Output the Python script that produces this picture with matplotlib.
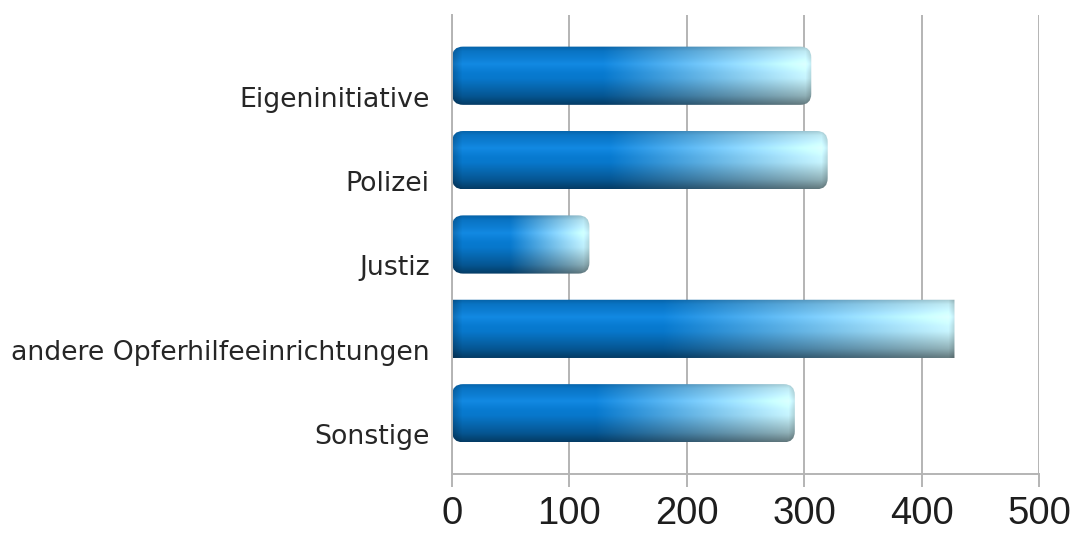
import numpy as np
import matplotlib
matplotlib.use("Agg")
import matplotlib.pyplot as plt
from matplotlib.patches import FancyBboxPatch

# data
categories = ["Eigeninitiative", "Polizei", "Justiz",
              "andere Opferhilfeeinrichtungen", "Sonstige"]
values = [306, 320, 117, 428, 292]
xticks = [0, 100, 200, 300, 400, 500]

grey = "#b4b4b4"
blue = np.array([0.03, 0.47, 0.80])
light = np.array([0.80, 0.97, 1.00])


def bar_image(npx_x, npx_y=60):
    # horizontal colour: blue, fading to pale cyan over the right part
    t = np.linspace(0, 1, npx_x)
    k = np.clip((t - 0.42) / 0.58, 0, 1)
    base = blue[None, :] * (1 - k[:, None]) + light[None, :] * k[:, None]
    # vertical shading of a cylinder
    s = np.linspace(0, 1, npx_y)
    fs = np.interp(s, [0, 0.08, 0.3, 0.55, 0.85, 1.0],
                   [0.82, 0.95, 1.06, 1.0, 0.72, 0.5])
    hl = np.interp(s, [0, 0.2, 0.3, 0.45, 1.0], [0, 0.02, 0.04, 0.0, 0])
    # darker rim at the ends
    px = np.arange(npx_x)
    fe = np.minimum(1, 0.78 + 0.22 * np.clip(px / 10.0, 0, 1))
    fe = fe * np.minimum(1, 0.85 + 0.15 * np.clip((npx_x - 1 - px) / 6.0, 0, 1))
    img = base[None, :, :] * fs[:, None, None] * fe[None, :, None] + hl[:, None, None]
    return np.clip(img, 0, 1)


fig = plt.figure(figsize=(10.74, 5.39), dpi=100)
ax = fig.add_axes([0.4209, 0.1206, 0.9674 - 0.4209, 0.9722 - 0.1206])

ypos = np.arange(len(categories))
bars = ax.barh(ypos, values, height=0.69, color="none", edgecolor="none")

ax.set_xlim(0, 500)
ax.set_ylim(len(categories) - 0.28, -0.72)

px_per_x = ax.bbox.width / 500.0
px_per_y = ax.bbox.height / (len(categories) + 0.44)
radius_px = 11

for i, b in enumerate(bars):
    x0, y0, w, h = b.get_x(), b.get_y(), b.get_width(), b.get_height()
    img = bar_image(max(int(w * px_per_x), 2))
    im = ax.imshow(img, extent=(x0, x0 + w, y0 + h, y0), origin="upper",
                   aspect="auto", interpolation="bilinear", zorder=2)
    r = 0 if values[i] == max(values) else radius_px / px_per_x
    clip = FancyBboxPatch((x0, y0), w, h,
                          boxstyle="round,pad=0,rounding_size=%f" % r,
                          mutation_aspect=px_per_x / px_per_y,
                          transform=ax.transData, fc="none", ec="none")
    ax.add_patch(clip)
    im.set_clip_path(clip)

ax.set_xlim(0, 500)
ax.set_ylim(len(categories) - 0.28, -0.72)

ax.set_xticks(xticks)
ax.set_xticklabels([str(v) for v in xticks], fontsize=27.5,
                   family="Liberation Sans", color="#1e1e1e")
# labels sit a little below the bar centres in the reference
ax.set_yticks(ypos + 21 / px_per_y)
ax.set_yticklabels(categories, fontsize=19.3, family="DejaVu Sans",
                   color="#262626")

ax.tick_params(axis="x", length=9, width=1.4, color=grey, pad=7)
ax.tick_params(axis="y", length=0, pad=16)
ax.grid(axis="x", color=grey, linewidth=1.4)
ax.set_axisbelow(True)

for side in ["top", "right"]:
    ax.spines[side].set_visible(False)
for side in ["left", "bottom"]:
    ax.spines[side].set_color(grey)
    ax.spines[side].set_linewidth(1.4)

fig.savefig("out.png", dpi=100)
